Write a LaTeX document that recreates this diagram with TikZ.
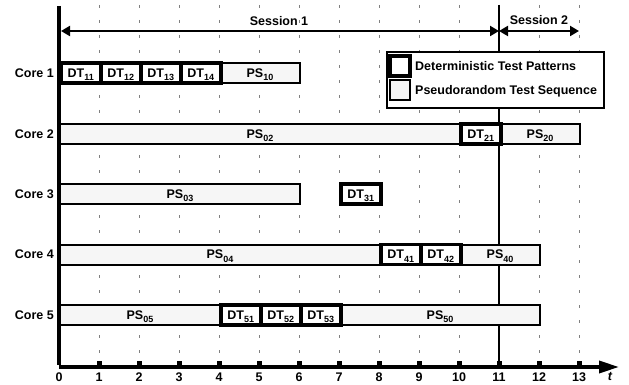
\documentclass[tikz,border=0pt]{standalone}
\usepackage{fontspec}
\setmainfont{Liberation Sans}
\usetikzlibrary{arrows.meta}
\newcommand\sbs[1]{\raisebox{-3.5pt}[0pt][0pt]{\fontsize{9}{9}\selectfont #1}}
\newcommand\tbox[6]{\node[#1, minimum width={(#4-#3)*40pt}] (#2) at ({59+40*#3},#5) {#6};}
\begin{document}
\begin{tikzpicture}[x=1pt,y=-1pt,
  every node/.style={font=\bfseries\fontsize{12.5}{14}\selectfont},
  dtbox/.style={draw, line width=3.5pt, fill=white, minimum height=20pt, inner sep=0pt, anchor=west},
  psbox/.style={draw, line width=2pt, fill=gray!7, minimum height=20pt, inner sep=0pt, anchor=west},
  gridline/.style={gray, line width=0.8pt, dash pattern=on 3pt off 12pt},
  sess/.style={line width=2pt, {Triangle[length=9pt,width=10pt]}-{Triangle[length=9pt,width=10pt]}},
  corelabel/.style={anchor=east, inner sep=0pt},
  numlabel/.style={inner sep=0pt}
]
\useasboundingbox (0,0) rectangle (629,385);
% grid
\foreach \t in {1,...,13} {
  \draw[gridline] ({59+40*\t},5) -- ({59+40*\t},362);
}
% session boundary line
\coordinate (s11top) at (499,5);
\coordinate (s11bot) at (499,367);
\draw[line width=2pt] (s11top) -- (s11bot);
% legend
\node[draw, line width=2pt, fill=white, minimum width=217pt, minimum height=56pt, inner sep=0pt, anchor=north west] (legend) at (386,51) {};
\node[draw, line width=4pt, fill=white, minimum size=20pt, inner sep=0pt] (ldt) at (400,66) {};
\node[draw, line width=2pt, fill=gray!7, minimum size=20pt, inner sep=0pt] (lps) at (400,90.5) {};
\node[anchor=west, inner sep=0pt] (ldtt) at (415,66) {Deterministic Test Patterns};
\node[anchor=west, inner sep=0pt] (lpst) at (415,91) {Pseudorandom Test Sequence};
% sessions
\coordinate (sa) at (61,31);
\coordinate (sb) at (499,31);
\coordinate (sc) at (579,31);
\draw[sess] (sa) -- (sb);
\draw[sess] (sb) -- (sc);
\node (ses1) at (279,21) {Session 1};
\node (ses2) at (539,20) {Session 2};
% core labels
\node[corelabel] (c1) at (54,73) {Core 1};
\node[corelabel] (c2) at (54,134) {Core 2};
\node[corelabel] (c3) at (54,194) {Core 3};
\node[corelabel] (c4) at (54,254.5) {Core 4};
\node[corelabel] (c5) at (54,315) {Core 5};
% core 1
\tbox{psbox}{ps10}{4}{6}{73}{PS\sbs{10}}
\tbox{dtbox}{dt11}{0}{1}{73}{DT\sbs{11}}
\tbox{dtbox}{dt12}{1}{2}{73}{DT\sbs{12}}
\tbox{dtbox}{dt13}{2}{3}{73}{DT\sbs{13}}
\tbox{dtbox}{dt14}{3}{4}{73}{DT\sbs{14}}
% core 2
\tbox{psbox}{ps02}{0}{10}{134}{PS\sbs{02}}
\tbox{psbox}{ps20}{11}{13}{134}{PS\sbs{20}}
\tbox{dtbox}{dt21}{10}{11}{134}{DT\sbs{21}}
% core 3
\tbox{psbox}{ps03}{0}{6}{194}{PS\sbs{03}}
\tbox{dtbox}{dt31}{7}{8}{194}{DT\sbs{31}}
% core 4
\tbox{psbox}{ps04}{0}{8}{254.5}{PS\sbs{04}}
\tbox{psbox}{ps40}{10}{12}{254.5}{PS\sbs{40}}
\tbox{dtbox}{dt41}{8}{9}{254.5}{DT\sbs{41}}
\tbox{dtbox}{dt42}{9}{10}{254.5}{DT\sbs{42}}
% core 5
\tbox{psbox}{ps05}{0}{4}{315}{PS\sbs{05}}
\tbox{psbox}{ps50}{7}{12}{315}{PS\sbs{50}}
\tbox{dtbox}{dt51}{4}{5}{315}{DT\sbs{51}}
\tbox{dtbox}{dt52}{5}{6}{315}{DT\sbs{52}}
\tbox{dtbox}{dt53}{6}{7}{315}{DT\sbs{53}}
% axes
\coordinate (ytop) at (59,6);
\coordinate (orig) at (59,367);
\coordinate (xend) at (619,367);
\draw[line width=3.5pt, -{Triangle[length=20pt,width=12pt]}] (orig) -- (xend);
\draw[line width=4.5pt] (ytop) -- ([yshift=1.75pt]orig);
\foreach \t in {1,...,13} {
  \fill ({59+40*\t-2.5},361) rectangle ({59+40*\t+2.5},367);
}
\foreach \t in {0,...,13} {
  \node[numlabel] (n\t) at ({59+40*\t},377.5) {\t};
}
\node[numlabel] (tlab) at (610,376) {\itshape t};
\end{tikzpicture}
\end{document}
